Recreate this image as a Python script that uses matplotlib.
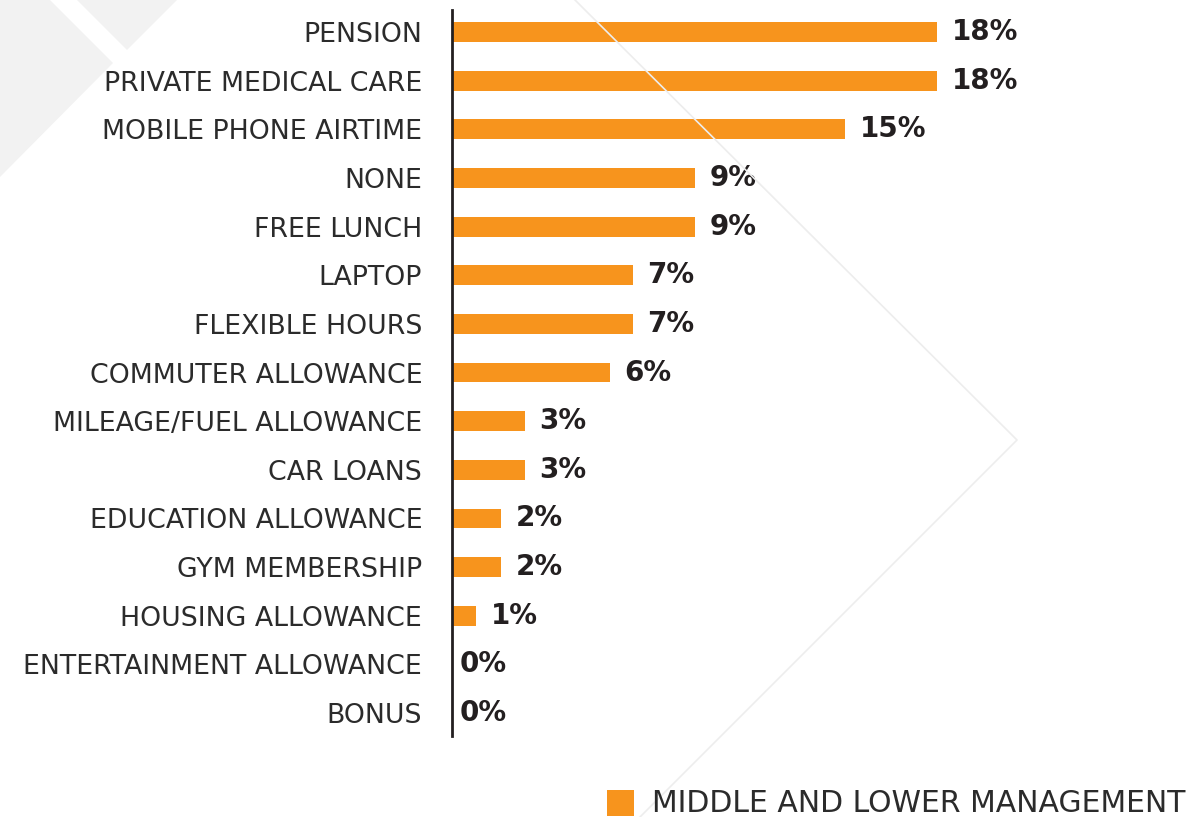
import matplotlib.pyplot as plt
from matplotlib.patches import Polygon, Rectangle
from matplotlib.lines import Line2D

# Benefits offered - middle and lower management
categories = ["PENSION", "PRIVATE MEDICAL CARE", "MOBILE PHONE AIRTIME", "NONE",
              "FREE LUNCH", "LAPTOP", "FLEXIBLE HOURS", "COMMUTER ALLOWANCE",
              "MILEAGE/FUEL ALLOWANCE", "CAR LOANS", "EDUCATION ALLOWANCE",
              "GYM MEMBERSHIP", "HOUSING ALLOWANCE", "ENTERTAINMENT ALLOWANCE", "BONUS"]
values = [18.0, 18.0, 14.6, 9.0, 9.0, 6.7, 6.7, 5.85, 2.7, 2.7, 1.8, 1.8, 0.9, 0.0, 0.0]
labels = ["18%", "18%", "15%", "9%", "9%", "7%", "7%", "6%",
          "3%", "3%", "2%", "2%", "1%", "0%", "0%"]
series_name = "MIDDLE AND LOWER MANAGEMENT"

orange = "#F7941D"
dark = "#231F20"
W, H = 1192, 817

fig = plt.figure(figsize=(W / 100, H / 100), dpi=100)
fig.patch.set_facecolor("white")

# decorative background shapes (figure pixel coords, y from top)
def px(pts):
    return [(x / W, 1 - y / H) for x, y in pts]

fig.patches.append(Polygon(px([(0, 0), (50, 0), (113, 63), (0, 177)]),
                           closed=True, transform=fig.transFigure,
                           facecolor="#F2F2F2", edgecolor="none", zorder=0))
fig.patches.append(Polygon(px([(77, 0), (177, 0), (127, 50)]),
                           closed=True, transform=fig.transFigure,
                           facecolor="#F2F2F2", edgecolor="none", zorder=0))
chev = px([(575, 0), (1017, 440), (640, 817)])
fig.lines.append(Line2D([p[0] for p in chev], [p[1] for p in chev],
                        transform=fig.transFigure, color="#EDEDED", lw=1.2, zorder=0))

# axes placed so the bar baseline sits at x=452
ax_left, ax_w = 452, 539
ax_top, ax_bot = 10, 736
ax = fig.add_axes([ax_left / W, 1 - ax_bot / H, ax_w / W, (ax_bot - ax_top) / H])
ax.patch.set_alpha(0)

pos = list(range(len(categories)))
ax.barh(pos, values, height=0.41, color=orange, zorder=2)
ax.set_xlim(0, 20)
ax.set_ylim(len(categories) - 1 + 0.47, -0.45)

for p, v, lab in zip(pos, values, labels):
    off = 0.55 if v > 0 else 0.3
    ax.text(v + off, p, lab, va="center", ha="left", fontsize=20,
            fontweight="bold", color=dark, family="DejaVu Sans")

ax.set_yticks(pos)
ax.set_yticklabels(categories, fontsize=19.3, color="#2B2B2B", family="DejaVu Sans")
ax.tick_params(axis="y", length=0, pad=21.5)
ax.set_xticks([])
for s in ["top", "right", "bottom"]:
    ax.spines[s].set_visible(False)
ax.spines["left"].set_color(dark)
ax.spines["left"].set_linewidth(2)

# legend at bottom right
fig.patches.append(Rectangle((607 / W, 1 - 816 / H), 27 / W, 26 / H,
                             transform=fig.transFigure, facecolor=orange,
                             edgecolor="none"))
fig.text(652 / W, 1 - 803 / H, series_name, fontsize=21.5, color="#2B2B2B",
         va="center", ha="left", family="DejaVu Sans")

fig.savefig("out.png", dpi=100)
